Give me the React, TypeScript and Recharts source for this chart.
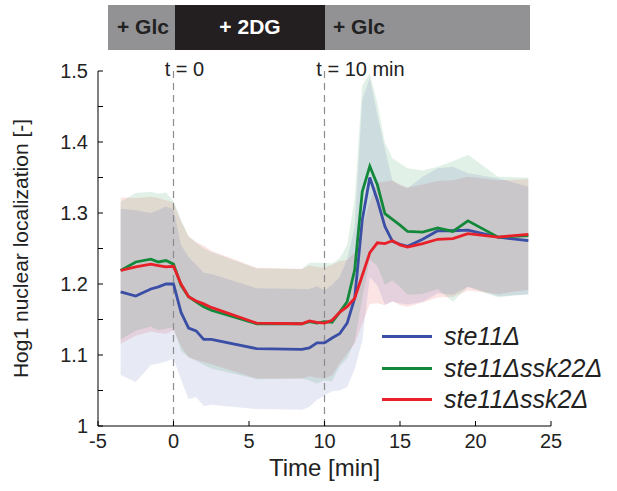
import * as React from 'react';
import { Area, ComposedChart, Legend, Line, ReferenceLine, XAxis, YAxis } from 'recharts';

// sampling times [min]
const time = [
  -3.5, -2.5, -1.5, -1, -0.5, 0, 0.5, 1, 1.5, 2, 2.5, 5.5, 8.5, 9, 9.5, 10, 10.5, 11, 11.5, 12, 12.5,
  13, 13.5, 14, 14.5, 15, 15.5, 16.5, 17.5, 18.5, 19.5, 21.5, 23.5,
];

// mean nuclear localization
const ste11 = [
  1.189, 1.183, 1.193, 1.196, 1.2, 1.2, 1.16, 1.138, 1.134, 1.122, 1.122, 1.109, 1.108, 1.11, 1.117,
  1.117, 1.124, 1.13, 1.145, 1.18, 1.29, 1.35, 1.318, 1.281, 1.26, 1.256, 1.253, 1.263, 1.275, 1.275,
  1.276, 1.266, 1.261,
];
const ste11ssk22 = [
  1.219, 1.231, 1.235, 1.231, 1.233, 1.228, 1.198, 1.182, 1.175, 1.168, 1.163, 1.144, 1.144, 1.147,
  1.145, 1.147, 1.146, 1.16, 1.175, 1.22, 1.33, 1.366, 1.34, 1.299, 1.291, 1.283, 1.274, 1.273, 1.279,
  1.274, 1.289, 1.266, 1.268,
];
const ste11ssk2 = [
  1.219, 1.224, 1.228, 1.226, 1.224, 1.225, 1.2, 1.182, 1.176, 1.172, 1.167, 1.145, 1.144, 1.148,
  1.146, 1.145, 1.149, 1.16, 1.168, 1.18, 1.212, 1.244, 1.258, 1.257, 1.261, 1.255, 1.252, 1.257,
  1.263, 1.264, 1.271, 1.266, 1.27,
];

// standard deviation (shaded bands)
const ste11Sd = [
  0.117, 0.121, 0.107, 0.108, 0.109, 0.105, 0.095, 0.1, 0.093, 0.094, 0.092, 0.085, 0.085, 0.083,
  0.08, 0.074, 0.075, 0.08, 0.09, 0.1, 0.17, 0.14, 0.12, 0.11, 0.085, 0.083, 0.082, 0.088, 0.088, 0.09,
  0.08, 0.083, 0.076,
];
const ste11ssk22Sd = [
  0.097, 0.097, 0.095, 0.096, 0.096, 0.089, 0.092, 0.085, 0.083, 0.082, 0.082, 0.078, 0.077, 0.083,
  0.085, 0.083, 0.083, 0.076, 0.08, 0.1, 0.15, 0.131, 0.115, 0.1, 0.086, 0.087, 0.089, 0.087, 0.086,
  0.099, 0.093, 0.085, 0.082,
];
const ste11ssk2Sd = [
  0.103, 0.097, 0.095, 0.095, 0.094, 0.09, 0.088, 0.085, 0.083, 0.082, 0.08, 0.078, 0.077, 0.078,
  0.078, 0.078, 0.078, 0.072, 0.066, 0.064, 0.068, 0.072, 0.085, 0.087, 0.085, 0.085, 0.084, 0.083,
  0.082, 0.082, 0.08, 0.08, 0.078,
];

const xTicks = [-5, 0, 5, 10, 15, 20, 25];
const yTicks = [1, 1.05, 1.1, 1.15, 1.2, 1.25, 1.3, 1.35, 1.4, 1.45, 1.5];

const series = [
  { key: 'ste11', name: 'ste11Δ', color: '#3a4ea5', mean: ste11, sd: ste11Sd },
  { key: 'ste11ssk22', name: 'ste11Δssk22Δ', color: '#12893a', mean: ste11ssk22, sd: ste11ssk22Sd },
  { key: 'ste11ssk2', name: 'ste11Δssk2Δ', color: '#e8202a', mean: ste11ssk2, sd: ste11ssk2Sd },
];

const FONT = '"Liberation Sans", Arial, Helvetica, sans-serif';

const data = time.map((t, i) => {
  const row: { [key: string]: number | number[] } = { t };
  series.forEach(s => {
    row[s.key] = s.mean[i];
    row[s.key + 'Band'] = [s.mean[i] - s.sd[i], s.mean[i] + s.sd[i]];
  });
  return row;
});

const XTick = ({ x, y, payload }: { x: number; y: number; payload: { value: number } }) => (
  <g>
    <line x1={x} x2={x} y1={y} y2={y - 5} stroke="#000" strokeWidth={1} />
    <text x={x} y={y + 22} textAnchor="middle" fill="#222" style={{ fontSize: 20, fontFamily: FONT }}>
      {payload.value}
    </text>
  </g>
);

const YTick = ({ x, y, payload }: { x: number; y: number; payload: { value: number } }) => {
  const major = Math.round(payload.value * 100) % 10 === 0;
  return (
    <g>
      <line x1={x} x2={x + 5} y1={y} y2={y} stroke="#000" strokeWidth={1} />
      {major && (
        <text x={x - 10} y={y + 7} textAnchor="end" fill="#222" style={{ fontSize: 20, fontFamily: FONT }}>
          {Number(payload.value.toFixed(1)).toString()}
        </text>
      )}
    </g>
  );
};

const LegendContent = () => (
  <div style={{ fontFamily: FONT }}>
    {series.map(s => (
      <div key={s.key} style={{ display: 'flex', alignItems: 'center', height: 31.5 }}>
        <div style={{ width: 50, height: 3, background: s.color, marginRight: 12 }} />
        <span style={{ fontStyle: 'italic', fontSize: 25, color: '#222' }}>{s.name}</span>
      </div>
    ))}
  </div>
);

const ConditionBar = () => (
  <div
    style={{
      position: 'absolute',
      left: 108,
      top: 5,
      width: 422,
      height: 45,
      background: '#929294',
      fontFamily: FONT,
      fontWeight: 'bold',
      fontSize: 21,
    }}
  >
    <span style={{ position: 'absolute', left: 9, top: 10, color: '#222' }}>+ Glc</span>
    <div style={{ position: 'absolute', left: 67, top: 0, width: 150, height: 45, background: '#231f20' }}>
      <span style={{ position: 'absolute', width: 150, textAlign: 'center', top: 10, color: '#fff' }}>+ 2DG</span>
    </div>
    <span style={{ position: 'absolute', left: 225, top: 10, color: '#222' }}>+ Glc</span>
  </div>
);

export default function App() {
  // bands drawn red first, blue last so the overlap stays a cool grey
  const bandOrder = [...series].reverse();
  return (
    <div style={{ position: 'absolute', left: 0, top: 0, width: 617, height: 491, background: '#fff' }}>
      <ConditionBar />
      <ComposedChart width={617} height={491} data={data} margin={{ top: 71, right: 66, bottom: 25, left: 38 }}>
        <XAxis
          dataKey="t"
          type="number"
          domain={[-5, 25]}
          ticks={xTicks}
          height={40}
          tickSize={0}
          tickMargin={0}
          tickLine={false}
          tick={XTick}
          axisLine={{ stroke: '#000', strokeWidth: 1 }}
          label={{ value: 'Time [min]', position: 'insideBottom', offset: -10, fill: '#222', style: { fontSize: 24, fontFamily: FONT } }}
        />
        <YAxis
          type="number"
          domain={[1, 1.5]}
          ticks={yTicks}
          width={60}
          tickSize={0}
          tickMargin={0}
          tickLine={false}
          tick={YTick}
          axisLine={{ stroke: '#000', strokeWidth: 1 }}
          allowDataOverflow
          label={{
            value: 'Hog1 nuclear localization [-]',
            angle: -90,
            position: 'insideLeft',
            offset: -17,
            fill: '#222',
            style: { textAnchor: 'middle', fontSize: 21, fontFamily: FONT },
          }}
        />
        {bandOrder.map(s => (
          <Area
            key={s.key + 'Band'}
            dataKey={s.key + 'Band'}
            type="linear"
            stroke="none"
            fill={s.color}
            fillOpacity={0.12}
            isAnimationActive={false}
            legendType="none"
          />
        ))}
        <ReferenceLine
          x={0}
          stroke="#8c8c8c"
          strokeWidth={1.2}
          strokeDasharray="7 5"
          label={{ value: 't = 0', position: 'top', dx: 11, offset: -5, fill: '#222', style: { fontSize: 20, fontFamily: FONT } }}
        />
        <ReferenceLine
          x={10}
          stroke="#8c8c8c"
          strokeWidth={1.2}
          strokeDasharray="7 5"
          label={{ value: 't = 10 min', position: 'top', dx: 36, offset: -5, fill: '#222', style: { fontSize: 20, fontFamily: FONT } }}
        />
        {series.map(s => (
          <Line
            key={s.key}
            dataKey={s.key}
            name={s.name}
            type="linear"
            stroke={s.color}
            strokeWidth={2.8}
            dot={false}
            isAnimationActive={false}
          />
        ))}
        <Legend
          layout="vertical"
          align="center"
          verticalAlign="middle"
          content={LegendContent}
          wrapperStyle={{ left: 382, top: 321, width: 'auto' }}
        />
      </ComposedChart>
    </div>
  );
}
